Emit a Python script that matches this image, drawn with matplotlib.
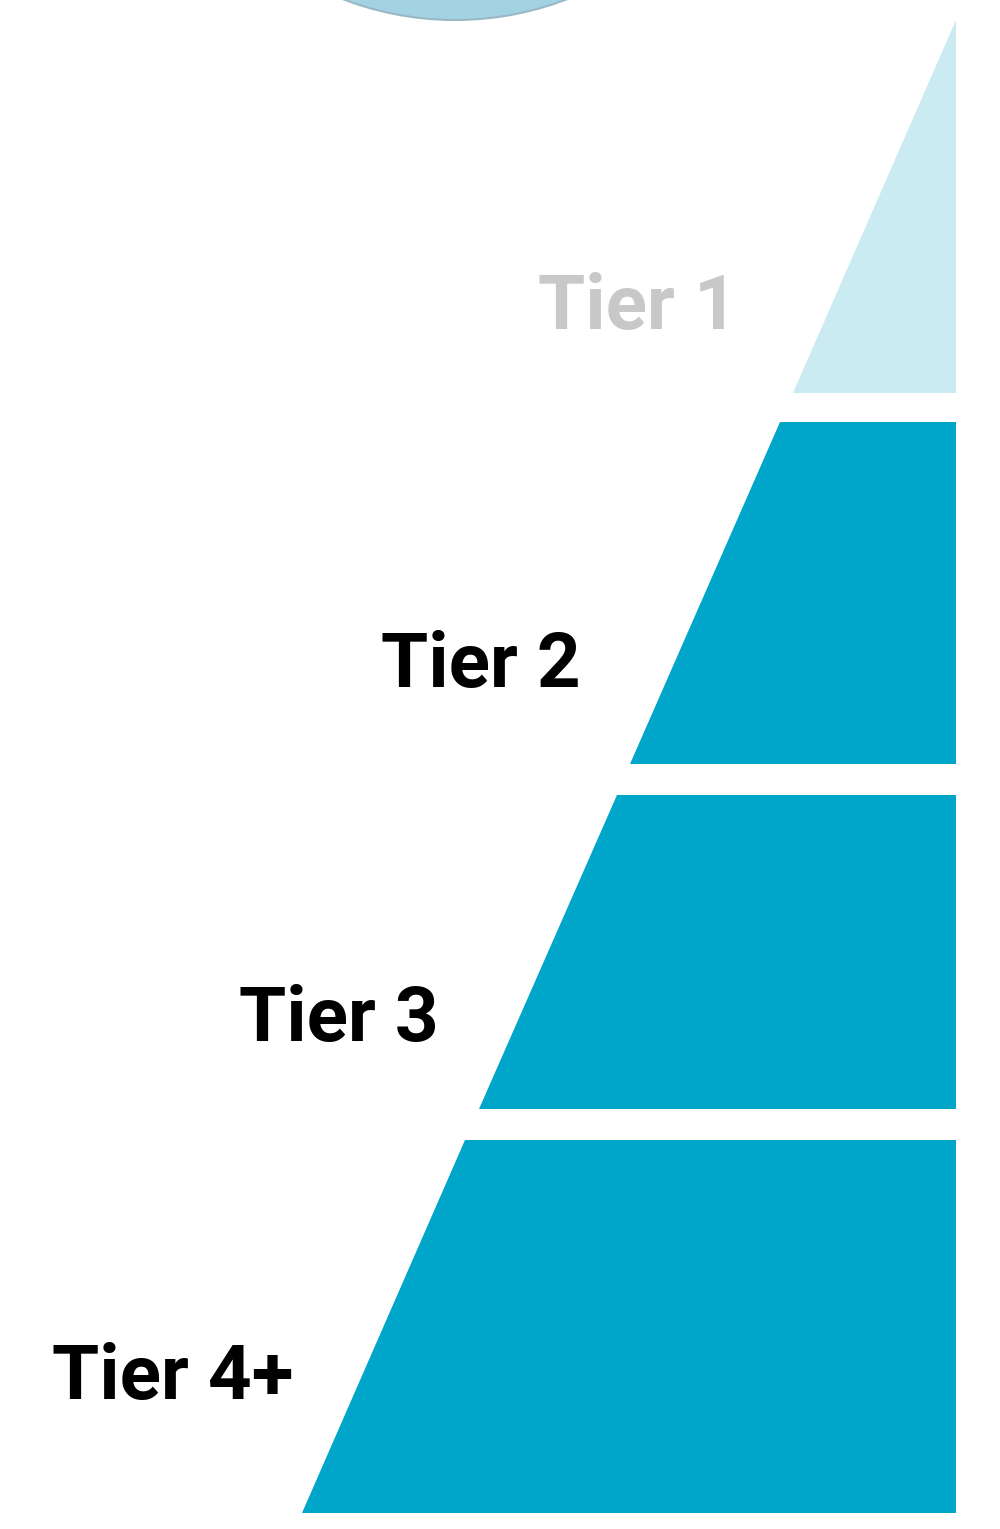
import matplotlib.pyplot as plt
from matplotlib.patches import Polygon, Ellipse

# Pyramid tiers, top to bottom (pixel coordinates of a 1000x1529 canvas)
tiers = ["Tier 1", "Tier 2", "Tier 3", "Tier 4+"]
band_top = [20, 422, 795, 1140]
band_bottom = [393, 764, 1109, 1513]
band_colors = ["#cbebf2", "#00a6ca", "#00a6ca", "#00a6ca"]
label_colors = ["#c8c8c8", "#000000", "#000000", "#000000"]

# label anchors (right edge, vertical centre)
label_x = [738, 581, 439, 293]
label_y = [309, 666, 1021, 1378]

W, H = 1000, 1529
apex = (956, 20)
base_left_x = 302
slope = (apex[0] - base_left_x) / (band_bottom[-1] - apex[1])


def left_edge(y):
    return apex[0] - slope * (y - apex[1])


fig = plt.figure(figsize=(W / 100, H / 100), dpi=100)
ax = fig.add_axes([0, 0, 1, 1])
ax.set_xlim(0, W)
ax.set_ylim(H, 0)
ax.axis("off")

# Cut-off circle at the top
ax.add_patch(Ellipse((455, -292), 624, 624, facecolor="#a3d3e3",
                     edgecolor="#9ab8c4", linewidth=1.5))

for name, top, bottom, lx, ly, fc, tc in zip(tiers, band_top, band_bottom,
                                             label_x, label_y, band_colors, label_colors):
    pts = [(left_edge(top), top), (apex[0], top),
           (apex[0], bottom), (left_edge(bottom), bottom)]
    ax.add_patch(Polygon(pts, closed=True, facecolor=fc, edgecolor="none"))
    ax.text(lx, ly, name, ha="right", va="center",
            fontsize=55, fontweight="bold", family="Roboto", color=tc)

fig.savefig("out.png", dpi=100)
